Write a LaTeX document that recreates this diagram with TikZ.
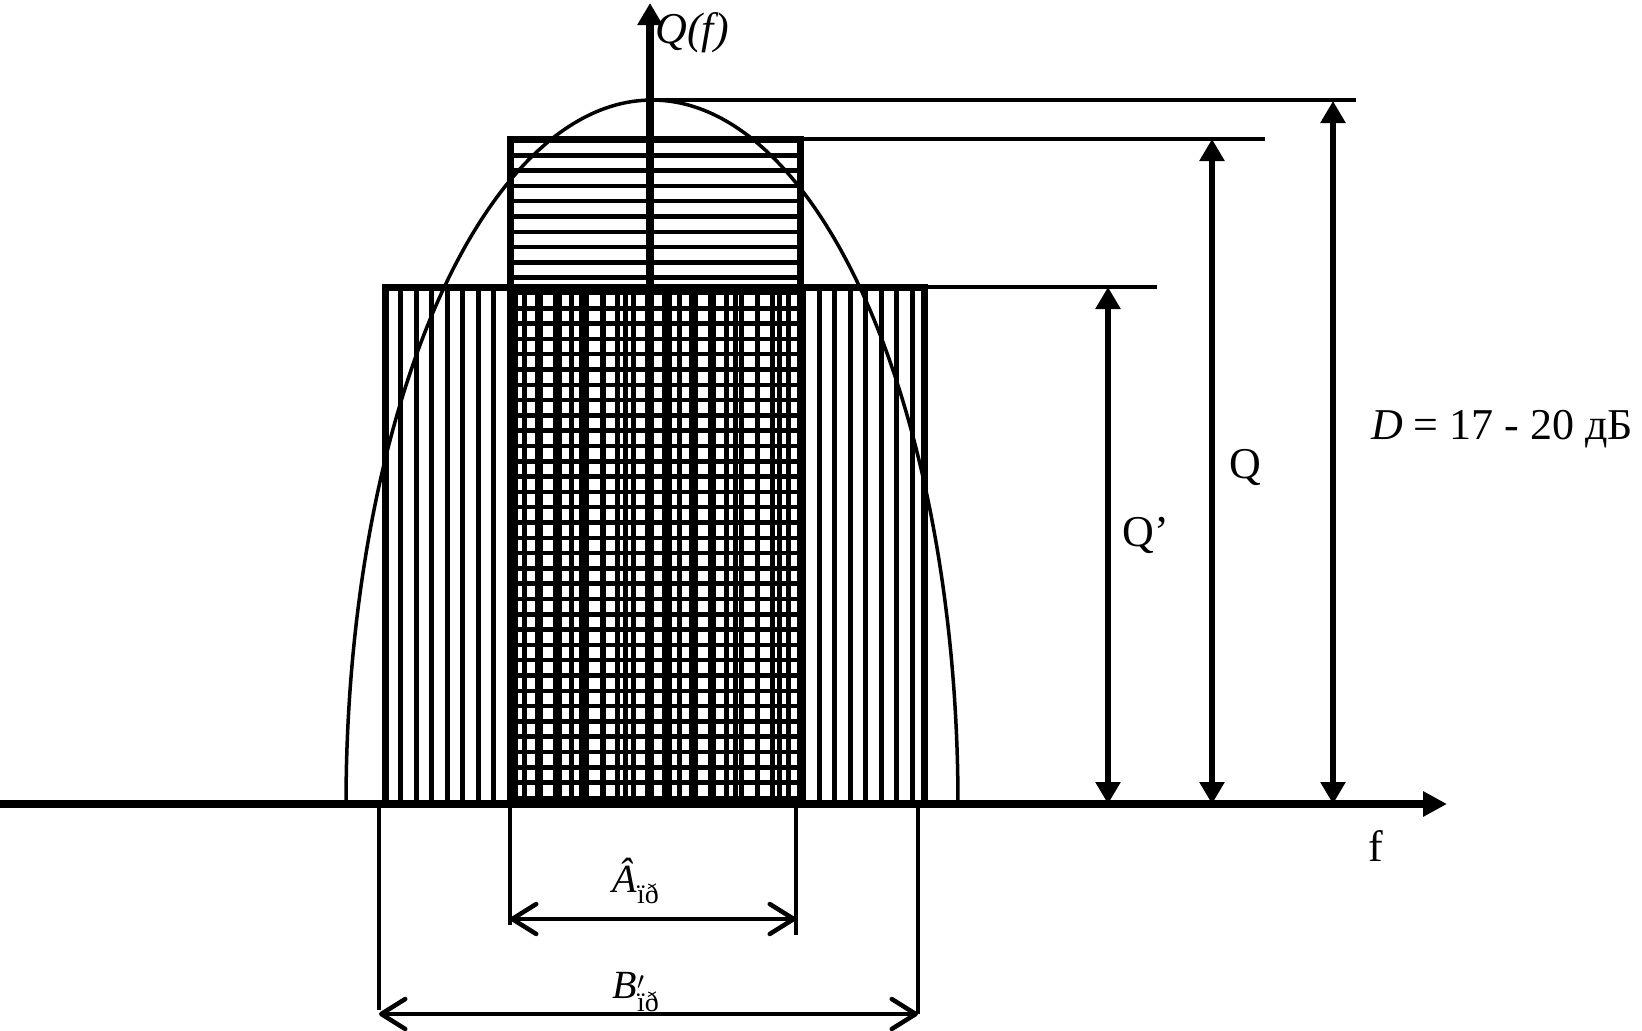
\documentclass[tikz,border=0pt]{standalone}
\usepackage{fontspec}
\setmainfont{Liberation Serif}
\usepackage{tikz}
\usetikzlibrary{arrows.meta,positioning}

\tikzset{
  axisline/.style={line width=7.5pt},
  edgeline/.style={line width=7pt},
  hatchh/.style={line width=4.5pt},
  hatchv/.style={line width=5pt},
  refline/.style={line width=3.5pt},
  dimarrow/.style={line width=5.5pt,
    {Triangle[length=22pt,width=24pt]}-{Triangle[length=22pt,width=24pt]}},
  bwarrow/.style={line width=4.5pt,line cap=round,
    {Straight Barb[length=24pt,width=30pt,round]}-{Straight Barb[length=24pt,width=30pt,round]}},
  lbl/.style={font=\fontsize{44}{52}\selectfont,inner sep=0pt},
  bwlbl/.style={font=\fontsize{40}{46}\selectfont,inner sep=0pt},
}
\newcommand{\subtxt}[1]{\mbox{\fontsize{28}{30}\selectfont #1}}

\begin{document}
\begin{tikzpicture}[x=1pt,y=-1pt]
  \useasboundingbox (0,0) rectangle (1642,1031);
  % levels of the spectrum
  \coordinate (O) at (650,804);
  \coordinate (peak) at (650,100);
  \coordinate (qtop) at (800,139);
  \coordinate (qptop) at (924,287);
  \coordinate (peakend) at (1356,100);
  \coordinate (qend) at (1265,139);
  \coordinate (qpend) at (1157,287);
  % hatching
  \foreach \k in {0,...,43}
    \draw[hatchh] (510,{140+15.3*\k}) -- (800,{140+15.3*\k});
  \foreach \k in {1,...,34}
    \draw[hatchv] ({385+15.5*\k},287) -- ({385+15.5*\k},804);
  \foreach \x in {515,537,...,780}
    \draw[hatchv] (\x,287) -- (\x,796);
  % rectangles
  \draw[edgeline] (385,804) |- (qptop) -- (924,804);
  \draw[edgeline] (510,804) |- (qtop) -- (800,804);
  % spectrum
  \draw[line width=3.5pt] plot[domain=180:0,samples=120,smooth]
    ({652+306*cos(\x)},{804-704*sin(\x)});
  % axes
  \draw[axisline,-{Triangle[length=24pt,width=24pt]}] (0,804) -- (1447,804);
  \draw[axisline,-{Triangle[length=22pt,width=24pt]}] (O) -- (650,3);
  \node[lbl,font=\fontsize{44}{52}\selectfont\itshape] (qf) at (692,33) {Q(f)};
  \node[lbl] (flab) at (1376,846) {f};
  % levels
  \draw[refline] (peak) -- (peakend);
  \draw[refline] (qtop) -- (qend);
  \draw[refline] (qptop) -- (qpend);
  \coordinate (dtop) at (1333,101);
  \coordinate (dbot) at (1333,804);
  \coordinate (qdtop) at (1212,139);
  \coordinate (qdbot) at (1212,804);
  \coordinate (qpdtop) at (1108,287);
  \coordinate (qpdbot) at (1108,804);
  \draw[dimarrow] (dbot) -- (dtop);
  \draw[dimarrow] (qdbot) -- (qdtop);
  \draw[dimarrow] (qpdbot) -- (qpdtop);
  \node[lbl] (dlab) at (1502,429) {\textit{D} = 17 - 20 дБ};
  \node[lbl] (qlab) at (1245,467) {Q};
  \node[lbl] (qplab) at (1146,535) {Q’};
  % bandwidths
  \coordinate (al) at (510,925);
  \coordinate (ar) at (796,935);
  \coordinate (bl) at (379,1010);
  \coordinate (br) at (918,1014);
  \draw[line width=4pt] (510,804) -- (al);
  \draw[line width=4pt] (796,804) -- (ar);
  \draw[line width=4pt] (379,804) -- (bl);
  \draw[line width=4pt] (918,804) -- (br);
  \draw[bwarrow] (al |- 0,919) -- (ar |- 0,919);
  \draw[bwarrow] (bl |- 0,1014) -- (br |- 0,1014);
  \node[bwlbl] (alab) at (636,881) {\textit{Â}$_{\subtxt{ïð}}$};
  \node[bwlbl] (blab) at (636,992) {\textit{B}$'_{\subtxt{ïð}}$};
\end{tikzpicture}
\end{document}
